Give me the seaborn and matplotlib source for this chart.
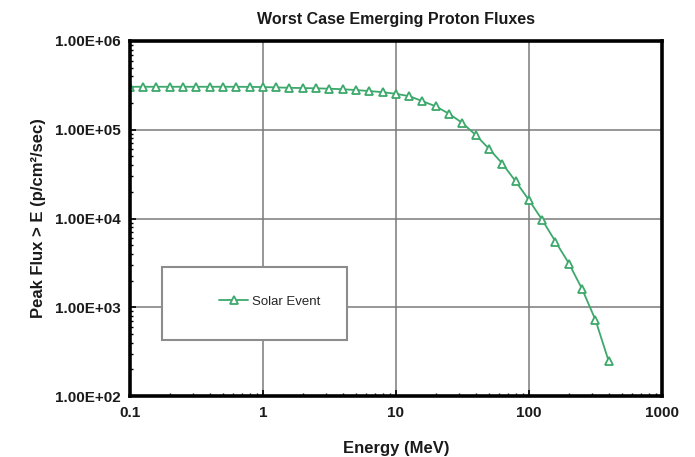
import matplotlib
matplotlib.use("Agg")
import matplotlib.pyplot as plt
import seaborn as sns
import pandas as pd
from matplotlib.patches import Rectangle
from matplotlib.ticker import FixedLocator, FixedFormatter, LogLocator, NullFormatter

energy = [0.1, 0.126, 0.158, 0.2, 0.251, 0.316, 0.398, 0.501, 0.631, 0.794,
          1.0, 1.26, 1.58, 2.0, 2.51, 3.16, 3.98, 5.01, 6.31, 7.94,
          10.0, 12.6, 15.8, 20.0, 25.1, 31.6, 39.8, 50.1, 63.1, 79.4,
          100.0, 126.0, 158.0, 200.0, 251.0, 316.0, 398.0]
flux = [3.05e5, 3.05e5, 3.05e5, 3.05e5, 3.05e5, 3.05e5, 3.05e5, 3.05e5, 3.05e5, 3.04e5,
        3.03e5, 3.0e5, 2.97e5, 2.95e5, 2.93e5, 2.9e5, 2.86e5, 2.8e5, 2.73e5, 2.65e5,
        2.54e5, 2.39e5, 2.1e5, 1.83e5, 1.51e5, 1.19e5, 8.7e4, 6.1e4, 4.15e4, 2.62e4,
        1.61e4, 9.6e3, 5.5e3, 3.1e3, 1.6e3, 7.2e2, 2.45e2]
series_name = "Solar Event"
x_ticks = [0.1, 1, 10, 100, 1000]
x_tick_labels = ["0.1", "1", "10", "100", "1000"]
y_ticks = [1e2, 1e3, 1e4, 1e5, 1e6]
y_tick_labels = ["1.00E+02", "1.00E+03", "1.00E+04", "1.00E+05", "1.00E+06"]

sns.set_theme(style="white")
plt.rcParams["font.family"] = ["Liberation Sans", "DejaVu Sans"]

green = "#3DA86C"
fig = plt.figure(figsize=(6.95, 4.57), dpi=100)
ax = fig.add_axes([130/695, 1-396/457, 532/695, 355/457])

df = pd.DataFrame({"Energy": energy, "Flux": flux, "Series": series_name})
sns.lineplot(data=df, x="Energy", y="Flux", ax=ax, color=green, linewidth=1.3,
             marker="^", markersize=5.5, markerfacecolor="white",
             markeredgecolor=green, markeredgewidth=1.3, legend=False,
             label=series_name)

ax.set_xscale("log")
ax.set_yscale("log")
ax.set_xlim(0.1, 1000)
ax.set_ylim(1e2, 1e6)

ax.xaxis.set_major_locator(FixedLocator(x_ticks))
ax.xaxis.set_major_formatter(FixedFormatter(x_tick_labels))
ax.yaxis.set_major_locator(FixedLocator(y_ticks))
ax.yaxis.set_major_formatter(FixedFormatter(y_tick_labels))
ax.xaxis.set_minor_locator(LogLocator(base=10, subs=range(2, 10)))
ax.yaxis.set_minor_locator(LogLocator(base=10, subs=range(2, 10)))
ax.xaxis.set_minor_formatter(NullFormatter())
ax.yaxis.set_minor_formatter(NullFormatter())

ax.grid(True, which="major", color="#7a7a7a", linewidth=1.1)
ax.set_axisbelow(True)
for s in ax.spines.values():
    s.set_color("black")
    s.set_linewidth(2.6)
ax.tick_params(which="major", direction="in", length=4, width=1.2, colors="black",
               labelsize=11, pad=7)
ax.tick_params(which="minor", direction="in", length=2.5, width=1, colors="black")
ax.tick_params(axis="y", which="both", left=True)
ax.tick_params(axis="x", which="both", bottom=True)
for lbl in ax.get_xticklabels() + ax.get_yticklabels():
    lbl.set_fontweight("bold")
    lbl.set_color("#1a1a1a")

ax.set_xlabel("Energy (MeV)", fontsize=12, fontweight="bold", labelpad=15, color="#1a1a1a")
ax.set_ylabel("Peak Flux > E (p/cm²/sec)", fontsize=12, fontweight="bold", labelpad=6,
              color="#1a1a1a")
ax.set_title("Worst Case Emerging Proton Fluxes", fontsize=11.5, fontweight="bold",
             pad=12, color="#1a1a1a")

rect = Rectangle((0.0596, 0.158), 0.349, 0.206, transform=ax.transAxes,
                 facecolor="white", edgecolor="#8c8c8c", linewidth=1.5, zorder=5)
ax.add_patch(rect)
leg = ax.legend(loc="center", bbox_to_anchor=(0.263, 0.265), frameon=False,
                fontsize=9.5, handlelength=2.2, handletextpad=0.3)
leg.set_zorder(6)

fig.savefig("out.png", dpi=100)
